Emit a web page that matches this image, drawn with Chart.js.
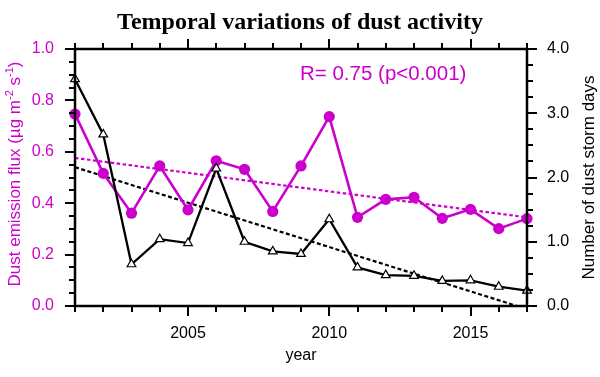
<!DOCTYPE html>
<html>
<head>
<meta charset="utf-8">
<script src="https://cdn.jsdelivr.net/npm/chart.js@4.4.1/dist/chart.umd.min.js"></script>
<style>
  html, body { margin: 0; padding: 0; background: #fff; }
  #wrap { width: 600px; height: 377px; }
</style>
</head>
<body>
<div id="wrap"><canvas id="c" width="600" height="377"></canvas></div>
<script>
// ---- data ----
const years = [2001, 2002, 2003, 2004, 2005, 2006, 2007, 2008, 2009, 2010, 2011, 2012, 2013, 2014, 2015, 2016, 2017];
const dustEmissionFlux = [0.747, 0.516, 0.361, 0.545, 0.374, 0.565, 0.532, 0.368, 0.545, 0.737, 0.345, 0.415, 0.423, 0.341, 0.376, 0.301, 0.340];
const dustStormDays = [3.53, 2.67, 0.65, 1.04, 0.98, 2.14, 1.00, 0.85, 0.81, 1.35, 0.60, 0.48, 0.47, 0.39, 0.40, 0.30, 0.24];
const fluxTrendX = [2001, 2017];
const fluxTrendY = [0.576, 0.345];
const daysTrendX = [2001, 2016.65];
const daysTrendY = [2.16, 0.0];
const xMajorTicks = [2005, 2010, 2015];
const leftTicks = [0.0, 0.2, 0.4, 0.6, 0.8, 1.0];
const rightTicks = [0.0, 1.0, 2.0, 3.0, 4.0];
const titleText = 'Temporal variations of dust activity';
const annotationText = 'R= 0.75 (p<0.001)';
const xTitle = 'year';
const rightTitle = 'Number of dust storm days';

const MAG = '#CC00CC';
const SANS = '"Liberation Sans", Arial, Helvetica, sans-serif';

const pts = (xs, ys) => xs.map((x, i) => ({ x: x, y: ys[i] }));

const decorPlugin = {
  id: 'decor',
  afterDraw(chart) {
    const { ctx, chartArea: a, scales } = chart;
    const x = scales.x, yl = scales.y, yr = scales.y1;
    ctx.save();
    ctx.strokeStyle = '#000';
    ctx.lineCap = 'butt';
    const line = (x1, y1, x2, y2) => { ctx.beginPath(); ctx.moveTo(x1, y1); ctx.lineTo(x2, y2); ctx.stroke(); };
    // ticks
    ctx.lineWidth = 2;
    for (let v = years[0]; v <= years[years.length - 1]; v++) {
      const len = xMajorTicks.includes(v) ? 10 : 6;
      const px = Math.round(x.getPixelForValue(v));
      line(px, a.bottom, px, a.bottom + len);
      line(px, a.top, px, a.top - len);
    }
    for (let i = 0; i <= 20; i++) {
      const v = i * 0.05;
      const len = (i % 4 === 0) ? 10 : 6;
      const py = Math.round(yl.getPixelForValue(v));
      line(a.left, py, a.left - len, py);
    }
    for (let i = 0; i <= 16; i++) {
      const v = i * 0.25;
      const len = (i % 4 === 0) ? 10 : 6;
      const py = Math.round(yr.getPixelForValue(v));
      line(a.right, py, a.right + len, py);
    }
    // frame
    ctx.lineWidth = 2.5;
    ctx.strokeRect(a.left, a.top, a.right - a.left, a.bottom - a.top);

    // annotation
    ctx.fillStyle = MAG;
    ctx.font = '20.5px ' + SANS;
    ctx.textAlign = 'left';
    ctx.textBaseline = 'alphabetic';
    ctx.fillText(annotationText, 300, 80);

    // x title
    ctx.fillStyle = '#000';
    ctx.font = '16px ' + SANS;
    ctx.textAlign = 'center';
    ctx.textBaseline = 'alphabetic';
    ctx.fillText(xTitle, (a.left + a.right) / 2, 360);

    // right title (rotated, reading upward)
    ctx.save();
    ctx.translate(594, 177.5);
    ctx.rotate(-Math.PI / 2);
    ctx.font = '17px ' + SANS;
    ctx.textAlign = 'center';
    ctx.textBaseline = 'alphabetic';
    ctx.fillText(rightTitle, 0, 0);
    ctx.restore();

    // left title with superscripts
    ctx.save();
    ctx.translate(20, 174);
    ctx.rotate(-Math.PI / 2);
    ctx.fillStyle = MAG;
    ctx.textAlign = 'left';
    ctx.textBaseline = 'alphabetic';
    const segs = [
      { t: 'Dust emission flux (\u00B5g m', s: 17, dy: 0 },
      { t: '-2', s: 11, dy: -7 },
      { t: ' s', s: 17, dy: 0 },
      { t: '-1', s: 11, dy: -7 },
      { t: ')', s: 17, dy: 0 }
    ];
    let total = 0;
    segs.forEach(sg => { ctx.font = sg.s + 'px ' + SANS; sg.w = ctx.measureText(sg.t).width; total += sg.w; });
    let cx = -total / 2;
    segs.forEach(sg => { ctx.font = sg.s + 'px ' + SANS; ctx.fillText(sg.t, cx, sg.dy); cx += sg.w; });
    ctx.restore();

    ctx.restore();
  }
};

new Chart(document.getElementById('c'), {
  type: 'line',
  data: {
    datasets: [
      {
        label: 'Number of dust storm days',
        data: pts(years, dustStormDays),
        yAxisID: 'y1',
        borderColor: '#000',
        borderWidth: 2.3,
        pointStyle: 'triangle',
        pointRadius: 5,
        pointBackgroundColor: '#fff',
        pointBorderColor: '#000',
        pointBorderWidth: 1.2,
        tension: 0,
        clip: false
      },
      {
        label: 'Dust emission flux',
        data: pts(years, dustEmissionFlux),
        yAxisID: 'y',
        borderColor: MAG,
        borderWidth: 2.6,
        pointStyle: 'circle',
        pointRadius: 5.6,
        pointBackgroundColor: MAG,
        pointBorderColor: MAG,
        pointBorderWidth: 0,
        tension: 0,
        clip: false
      },
      {
        label: 'days trend',
        data: pts(daysTrendX, daysTrendY),
        yAxisID: 'y1',
        borderColor: '#000',
        borderWidth: 2.2,
        borderDash: [4, 2.5],
        pointRadius: 0,
        tension: 0
      },
      {
        label: 'flux trend',
        data: pts(fluxTrendX, fluxTrendY),
        yAxisID: 'y',
        borderColor: MAG,
        borderWidth: 2.2,
        borderDash: [3.5, 2.5],
        pointRadius: 0,
        tension: 0
      }
    ]
  },
  options: {
    responsive: false,
    animation: false,
    devicePixelRatio: 1,
    layout: { padding: 0 },
    plugins: {
      legend: { display: false },
      tooltip: { enabled: false },
      title: {
        display: true,
        text: titleText,
        color: '#000',
        font: { family: '"Liberation Serif", "Times New Roman", serif', size: 24, weight: 'bold' },
        padding: { top: 8.6, bottom: 11.6 }
      }
    },
    scales: {
      x: {
        type: 'linear',
        position: 'bottom',
        min: years[0],
        max: years[years.length - 1],
        grid: { display: false, drawTicks: true, tickLength: 10 },
        border: { display: false },
        afterBuildTicks: s => { s.ticks = xMajorTicks.map(v => ({ value: v })); },
        afterFit: s => { s.height = 71; },
        ticks: {
          color: '#000',
          font: { family: SANS, size: 16 },
          padding: 8,
          maxRotation: 0,
          callback: v => String(v)
        }
      },
      y: {
        type: 'linear',
        position: 'left',
        min: 0,
        max: 1,
        grid: { display: false, drawTicks: true, tickLength: 10 },
        border: { display: false },
        afterBuildTicks: s => { s.ticks = leftTicks.map(v => ({ value: v })); },
        afterFit: s => { s.width = 75; },
        ticks: {
          color: MAG,
          font: { family: SANS, size: 16 },
          padding: 11,
          callback: v => Number(v).toFixed(1)
        }
      },
      y1: {
        type: 'linear',
        position: 'right',
        min: 0,
        max: 4,
        grid: { display: false, drawTicks: true, tickLength: 10 },
        border: { display: false },
        afterBuildTicks: s => { s.ticks = rightTicks.map(v => ({ value: v })); },
        afterFit: s => { s.width = 73; },
        ticks: {
          color: '#000',
          font: { family: SANS, size: 16 },
          padding: 10,
          callback: v => Number(v).toFixed(1)
        }
      }
    }
  },
  plugins: [decorPlugin]
});
</script>
</body>
</html>
